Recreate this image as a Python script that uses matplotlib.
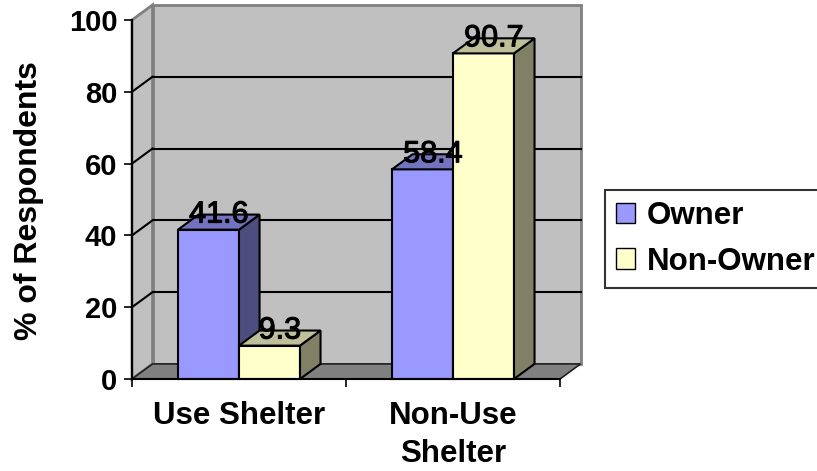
import matplotlib
matplotlib.use("Agg")
import matplotlib.pyplot as plt
from matplotlib.patches import Polygon, Patch
import matplotlib.patheffects as pe

plt.rcParams["font.family"] = ["Liberation Sans", "DejaVu Sans"]

# Data
categories = ["Use Shelter", "Non-Use\nShelter"]
series_names = ["Owner", "Non-Owner"]
owner = [41.6, 58.4]
non_owner = [9.3, 90.7]
y_ticks = [0, 20, 40, 60, 80, 100]

# Styling
face_colors = ["#9999FF", "#FFFFCC"]
side_colors = ["#4D4D80", "#808066"]
top_colors = ["#7373BF", "#BFBF99"]
wall_color = "#C0C0C0"
floor_color = "#808080"
edge_gray = "#808080"
bar_width = 0.285
depth_x = 0.096   # 3D depth in category units
depth_y = 4.2     # 3D depth in value units

fig = plt.figure(figsize=(8.17, 4.71), dpi=100)
fig.patch.set_facecolor("white")
ax = fig.add_axes([132 / 817, (471 - 379) / 471, 428 / 817, 359 / 471])
ax.set_xlim(0, len(categories))
ax.set_ylim(0, 100)
ax.patch.set_visible(False)

# Back wall
back = Polygon([(depth_x, depth_y), (2 + depth_x, depth_y),
                (2 + depth_x, 100 + depth_y), (depth_x, 100 + depth_y)],
               closed=True, facecolor=wall_color, edgecolor=edge_gray,
               linewidth=2, zorder=1, clip_on=False)
ax.add_patch(back)
# Left side wall
left = Polygon([(0, 0), (0, 100), (depth_x, 100 + depth_y), (depth_x, depth_y)],
               closed=True, facecolor=wall_color, edgecolor=edge_gray,
               linewidth=2, zorder=1.2, clip_on=False)
ax.add_patch(left)
# Floor
floor = Polygon([(0, 0), (2, 0), (2 + depth_x, depth_y), (depth_x, depth_y)],
                closed=True, facecolor=floor_color, edgecolor="#202020",
                linewidth=1.2, zorder=1.4, clip_on=False)
ax.add_patch(floor)

# Gridlines on back wall and side wall
for v in y_ticks[1:-1]:
    ax.plot([depth_x, 2 + depth_x], [v + depth_y, v + depth_y], color="black",
            linewidth=1.5, zorder=1.5, clip_on=False)
    ax.plot([0, depth_x], [v, v + depth_y], color="black",
            linewidth=1.5, zorder=1.5, clip_on=False)

# 3D bars
z = 2
values = [owner, non_owner]
for j in range(len(categories)):
    center = j + 0.5
    for i, vals in enumerate(values):
        v = vals[j]
        x0 = center - bar_width if i == 0 else center
        ax.bar(x0, v, width=bar_width, align="edge", color=face_colors[i],
               edgecolor="black", linewidth=1.5, zorder=z, clip_on=False)
        x1 = x0 + bar_width
        side = Polygon([(x1, 0), (x1, v), (x1 + depth_x, v + depth_y),
                        (x1 + depth_x, depth_y)], closed=True,
                       facecolor=side_colors[i], edgecolor="black",
                       linewidth=1.5, zorder=z + 0.1, clip_on=False)
        top = Polygon([(x0, v), (x1, v), (x1 + depth_x, v + depth_y),
                       (x0 + depth_x, v + depth_y)], closed=True,
                      facecolor=top_colors[i], edgecolor="black",
                      linewidth=1.5, zorder=z + 0.2, clip_on=False)
        ax.add_patch(side)
        ax.add_patch(top)
        z += 1

# Value labels
for j in range(len(categories)):
    center = j + 0.5
    for i, vals in enumerate(values):
        v = vals[j]
        bc = center - bar_width / 2 if i == 0 else center + bar_width / 2
        ax.text(bc + depth_x / 2, v + depth_y, f"{v}", ha="center", va="center",
                fontsize=22, color="black", zorder=20, clip_on=False,
                path_effects=[pe.withStroke(linewidth=0.8, foreground="black")])

# Axes
for s in ["top", "right"]:
    ax.spines[s].set_visible(False)
for s in ["left", "bottom"]:
    ax.spines[s].set_linewidth(1.5)
    ax.spines[s].set_color("black")
    ax.spines[s].set_zorder(10)

ax.set_yticks(y_ticks)
ax.set_yticklabels([str(t) for t in y_ticks], fontsize=21, fontweight="bold")
ax.tick_params(axis="y", direction="out", length=5.5, width=1.2, pad=5)

ax.set_xticks([0, 1, 2])
ax.set_xticklabels(["", "", ""])
ax.set_xticks([0.5, 1.5], minor=True)
ax.set_xticklabels(categories, minor=True, fontsize=22.5, fontweight="bold",
                   linespacing=1.33)
ax.tick_params(axis="x", which="major", direction="out", length=6, width=1.2)
ax.tick_params(axis="x", which="minor", length=0, pad=16)

ax.set_ylabel("% of Respondents", fontsize=23, fontweight="bold", va="center")
ax.yaxis.set_label_coords(-0.24, 0.497)

# Legend
handles = [Patch(facecolor=face_colors[k], edgecolor="black", linewidth=1,
                 label=series_names[k]) for k in range(2)]
leg = fig.legend(handles=handles, loc="upper left",
                 bbox_to_anchor=(605 / 817, 1 - 190 / 471), borderaxespad=0,
                 frameon=True, fancybox=False, handlelength=0.6,
                 handleheight=0.62, handletextpad=0.4, labelspacing=0.5,
                 borderpad=0.35, prop={"size": 22.5, "weight": "bold"})
leg.get_frame().set_edgecolor("black")
leg.get_frame().set_linewidth(1.5)

fig.savefig("out.png", dpi=100, facecolor="white")
